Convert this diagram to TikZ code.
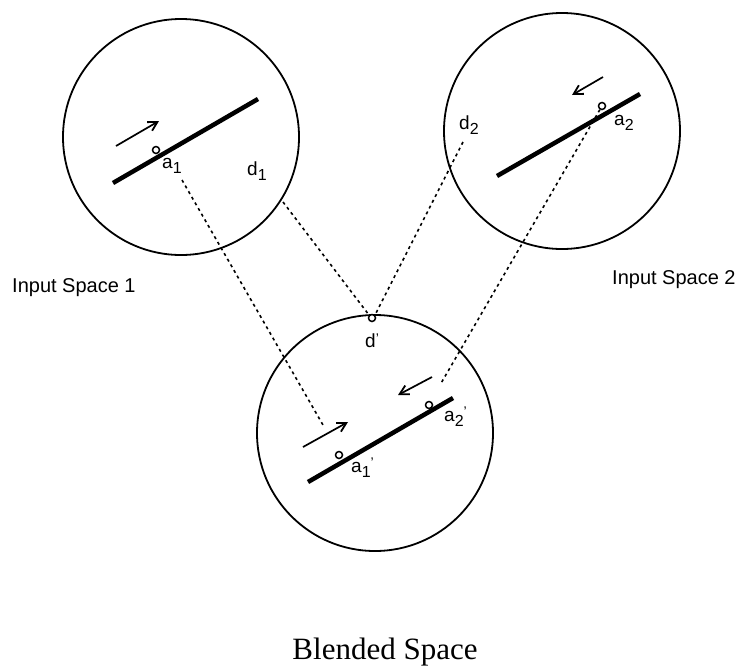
\documentclass[tikz,border=0pt]{standalone}
\usepackage{fontspec}
\setmainfont{Liberation Sans}
\newfontfamily\serifblend{Liberation Serif}
\usetikzlibrary{arrows.meta}
\tikzset{
  space/.style={draw, line width=1.8pt, circle, minimum size=236pt, inner sep=0pt},
  bar/.style={line width=4.5pt},
  marker/.style={draw, circle, line width=1.5pt, minimum size=7pt, inner sep=0pt, fill=white},
  motion/.style={line width=1.7pt, -{Straight Barb[length=9pt,width=10pt,line width=1.8pt]}},
  link/.style={line width=1.6pt, dash pattern=on 3pt off 3.5pt},
  lbl/.style={font=\fontsize{19}{19}\selectfont, inner sep=0pt},
  title/.style={font=\fontsize{20}{20}\selectfont, inner sep=0pt},
}
\newcommand{\sbs}[1]{\raisebox{-0.55ex}{\fontsize{16}{16}\selectfont #1}}
\newcommand{\prm}{\raisebox{0.45ex}{\fontsize{14}{14}\selectfont '}}
\begin{document}
\begin{tikzpicture}[x=1pt,y=-1pt]
\useasboundingbox (0,0) rectangle (746,667);
% spaces
\node[space] (s1) at (181,137) {};
\node[space] (s2) at (562,131) {};
\node[space] (s3) at (375,433) {};
% input space 1
\coordinate (l1a) at (113,183);
\coordinate (l1b) at (258,99);
\draw[bar] (l1a) -- (l1b);
\node[marker] (m1) at (156,150) {};
\coordinate (r1a) at (116,146);
\coordinate (r1b) at (159,121);
\draw[motion] (r1a) -- (r1b);
\node[lbl, anchor=west] (la1) at (162,166) {a\sbs{1}};
\node[lbl, anchor=west] (ld1) at (247,171) {d\sbs{1}};
% input space 2
\coordinate (l2a) at (497,176);
\coordinate (l2b) at (640,94);
\draw[bar] (l2a) -- (l2b);
\node[marker] (m2) at (602,106) {};
\coordinate (r2a) at (603,77);
\coordinate (r2b) at (572,95);
\draw[motion] (r2a) -- (r2b);
\node[lbl, anchor=west] (la2) at (614,123) {a\sbs{2}};
\node[lbl, anchor=west] (ld2) at (459,125) {d\sbs{2}};
% blended space
\coordinate (l3a) at (308,482);
\coordinate (l3b) at (453,398);
\draw[bar] (l3a) -- (l3b);
\node[marker] (m3a) at (339,455) {};
\node[marker] (m3b) at (429,405) {};
\node[marker] (md) at (372,318) {};
\coordinate (r3a) at (303,447);
\coordinate (r3b) at (348,422);
\draw[motion] (r3a) -- (r3b);
\coordinate (r4a) at (432,377);
\coordinate (r4b) at (398,395);
\draw[motion] (r4a) -- (r4b);
\node[lbl, anchor=west] (la3) at (351,468) {a\sbs{1}\prm};
\node[lbl, anchor=west] (la4) at (444,417) {a\sbs{2}\prm};
\node[lbl, anchor=west] (ldp) at (365,341) {d\prm};
% connectors
\coordinate (c1s) at (182,180);
\coordinate (c1e) at (323,425);
\draw[link] (c1s) -- (c1e);
\coordinate (c2s) at (283,202);
\draw[link] (c2s) -- (md.north west);
\coordinate (c3s) at (463,142);
\draw[link] (c3s) -- (md.north east);
\coordinate (c4e) at (440,385);
\draw[link] (m2) -- (c4e);
% titles
\node[title, anchor=west] (t1) at (12,288) {Input Space 1};
\node[title, anchor=west] (t2) at (612,280) {Input Space 2};
\node[font=\serifblend\fontsize{31}{31}\selectfont, inner sep=0pt, anchor=base] (t3) at (385,659) {Blended Space};
\end{tikzpicture}
\end{document}
